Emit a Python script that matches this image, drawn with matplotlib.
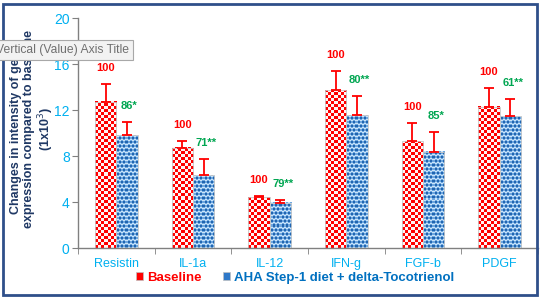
import numpy as np
import matplotlib
matplotlib.use("Agg")
import matplotlib.pyplot as plt
from matplotlib.patches import Rectangle, Patch

# ---- data ----
categories = ["Resistin", "IL-1a", "IL-12", "IFN-g", "FGF-b", "PDGF"]
baseline = [12.7, 8.72, 4.43, 13.7, 9.3, 12.3]
baseline_err = [1.6, 0.56, 0.08, 1.7, 1.54, 1.6]
treated = [9.8, 6.32, 3.94, 11.55, 8.38, 11.45]
treated_err = [1.2, 1.39, 0.23, 1.65, 1.68, 1.5]
baseline_labels = ["100", "100", "100", "100", "100", "100"]
treated_labels = ["86*", "71**", "79**", "80**", "85*", "61**"]
yticks = [0, 4, 8, 12, 16, 20]
series_names = ["Baseline", "AHA Step-1 diet + delta-Tocotrienol"]

RED = "#FF0000"
BLUE = "#2E78C8"
GREEN = "#00A651"
TICKBLUE = "#00B0F0"
NAVY = "#1F3864"

plt.rcParams["font.family"] = ["Liberation Sans", "DejaVu Sans"]

W, H = 542, 300
fig = plt.figure(figsize=(W / 100, H / 100), dpi=100)
ax = fig.add_axes([78 / W, 1 - 248 / H, 460 / W, 230 / H])

x = np.arange(len(categories))
bw = 0.28
b1 = ax.bar(x - bw / 2, baseline, bw, color="none", edgecolor="none", zorder=2)
b2 = ax.bar(x + bw / 2, treated, bw, color="none", edgecolor="none", zorder=2)

ax.set_xlim(-0.5, len(categories) - 0.5)
ax.set_ylim(0, 20)

fig.canvas.draw()


def tex_checker(nx, ny, cell=3):
    jj, ii = np.mgrid[0:ny, 0:nx]
    m = ((ii // cell) + (jj // cell)) % 2
    c1 = np.array(matplotlib.colors.to_rgb(RED))
    c2 = np.array(matplotlib.colors.to_rgb("#FFF4F4"))
    return np.where(m[..., None] == 0, c1, c2)


def tex_dots(nx, ny, period=4.0):
    ss = 4
    jj, ii = np.mgrid[0:ny * ss, 0:nx * ss]
    yy = (jj + 0.5) / ss
    xx = (ii + 0.5) / ss
    row = np.floor(yy / period)
    xs = xx + (row % 2) * period / 2
    dx = (xs % period) - period / 2
    dy = (yy % period) - period / 2
    d = np.sqrt(dx ** 2 + dy ** 2)
    blue = np.array(matplotlib.colors.to_rgb("#2F7FD0"))
    dark = np.array(matplotlib.colors.to_rgb("#1E5FA8"))
    light = np.array(matplotlib.colors.to_rgb("#D8ECFB"))
    img = np.where((d < 1.0)[..., None], dark, np.where((d < 1.7)[..., None], blue, light))
    img = img.reshape(ny, ss, nx, ss, 3).mean(axis=(1, 3))
    return img


def texture(bars, maker):
    for r in bars:
        x0, y0, w, h = r.get_x(), r.get_y(), r.get_width(), r.get_height()
        (px0, py0), (px1, py1) = ax.transData.transform([(x0, y0), (x0 + w, y0 + h)])
        nx = max(1, int(round(px1 - px0)))
        ny = max(1, int(round(py1 - py0)))
        img = maker(nx, ny)
        ax.imshow(img, extent=[x0, x0 + w, y0, y0 + h], origin="lower",
                  aspect="auto", interpolation="nearest", zorder=2)
        ax.add_patch(Rectangle((x0, y0), w, h, fill=False, edgecolor="#C8C8C8",
                               linewidth=0.6, zorder=2.5))


texture(b1, tex_checker)
texture(b2, tex_dots)
ax.set_xlim(-0.5, len(categories) - 0.5)
ax.set_ylim(0, 20)

ax.errorbar(x - bw / 2, baseline, yerr=[np.zeros(len(x)), baseline_err], fmt="none",
            ecolor=RED, elinewidth=1.3, capsize=3.5, capthick=1.3, zorder=3)
ax.errorbar(x + bw / 2, treated, yerr=[np.zeros(len(x)), treated_err], fmt="none",
            ecolor=RED, elinewidth=1.3, capsize=3.5, capthick=1.3, zorder=3)

for xi, v, e, lab in zip(x - bw / 2, baseline, baseline_err, baseline_labels):
    ax.annotate(lab, (xi, v + e), xytext=(0, 11.5), textcoords="offset points",
                ha="center", va="center", color=RED, fontsize=8, fontweight="bold")
for xi, v, e, lab in zip(x + bw / 2, treated, treated_err, treated_labels):
    ax.annotate(lab, (xi + 0.03, v + e), xytext=(0, 11.5), textcoords="offset points",
                ha="center", va="center", color=GREEN, fontsize=8, fontweight="bold")

# axes styling
for s in ["top", "right"]:
    ax.spines[s].set_visible(False)
for s in ["left", "bottom"]:
    ax.spines[s].set_color("#808080")
    ax.spines[s].set_linewidth(1.0)

ax.set_yticks(yticks)
ax.tick_params(axis="y", colors="#808080", labelcolor=TICKBLUE, labelsize=10,
               length=4, pad=2)
ax.set_xticks(x)
ax.set_xticklabels(categories)
ax.set_xticks(np.arange(-0.5, len(categories)), minor=True)
ax.tick_params(axis="x", which="major", length=0, labelcolor=TICKBLUE, labelsize=9, pad=7)
ax.tick_params(axis="x", which="minor", length=4, color="#808080")

fig.text(33 / W, 1 - 129 / H,
         "Changes in intensity of gene\nexpression compared to baseline\n(1x10$^3$)",
         rotation=90, ha="center", va="center", multialignment="center",
         fontsize=9, fontweight="bold", color=NAVY, linespacing=1.08)

# legend
handles = [Patch(facecolor=RED, edgecolor="#C0C0C0", linewidth=0.5),
           Patch(facecolor=BLUE, edgecolor="#C0C0C0", linewidth=0.5)]
leg = fig.legend(handles, series_names, loc="center left", bbox_to_anchor=(136 / W, 1 - 278 / H),
                 ncol=2, frameon=False, handlelength=0.55, handleheight=0.55,
                 handletextpad=0.3, columnspacing=1.6, borderpad=0, borderaxespad=0,
                 prop={"size": 9.5, "weight": "bold"})
for t, c in zip(leg.get_texts(), [RED, "#0070C0"]):
    t.set_color(c)

# outer frame
fig.add_artist(Rectangle((3 / W, 1 - 295 / H), 534 / W, 291 / H, transform=fig.transFigure,
                         fill=False, edgecolor="#2F4F8A", linewidth=2.0, zorder=10))

# tooltip overlay present in the reference
fig.text(-4 / W, 1 - 50 / H, "Vertical (Value) Axis Title", fontsize=8.7, color="#707070",
         ha="left", va="center", zorder=11,
         bbox=dict(boxstyle="square,pad=0.3", facecolor="#F2F2F2", edgecolor="#A8A8A8",
                   linewidth=0.8))

fig.savefig("out.png", dpi=100)
